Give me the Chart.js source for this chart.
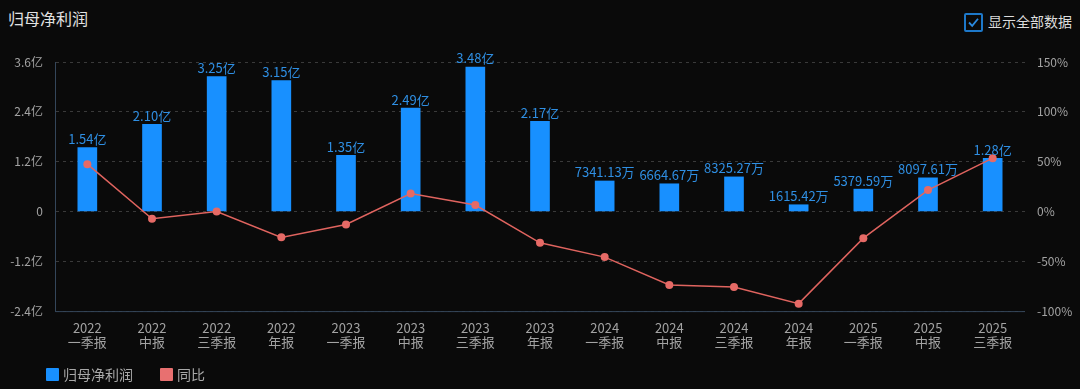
<!DOCTYPE html>
<html>
<head>
<meta charset="utf-8">
<script src="https://cdn.jsdelivr.net/npm/chart.js@4.4.1/dist/chart.umd.min.js"></script>
<style>
  html, body { margin: 0; padding: 0; background: #0a0a0a; }
  body { width: 1080px; height: 389px; position: relative; overflow: hidden;
         font-family: "Noto Sans CJK SC", "Noto Sans", sans-serif; }
  #title { position: absolute; left: 8px; top: 6px; font-size: 16px; color: #e2e2e2; }
  #toggle { position: absolute; left: 964px; top: 12px; font-size: 14px; color: #dcdcdc; }
  #toggle .box { position: absolute; left: 0; top: 1px; width: 15px; height: 15px;
                 border: 2px solid #1d78c9; border-radius: 2px; }
  #toggle .box svg { position: absolute; left: 1px; top: 1px; }
  #toggle .txt { position: absolute; left: 24px; top: -1px; white-space: nowrap; }
  #wrap { position: absolute; left: 0; top: 0; width: 1080px; height: 389px; }
  .lg { position: absolute; top: 364px; font-size: 14px; color: #a8a8a8; white-space: nowrap; }
  .lg i { position: absolute; left: 0; top: 4px; width: 13px; height: 13px; border-radius: 1px; }
  .lg span { position: absolute; left: 17px; top: 0; }
</style>
</head>
<body>
<div id="title">归母净利润</div>
<div id="toggle">
  <div class="box"><svg width="13" height="13" viewBox="0 0 13 13"><path d="M2 6.5 L5.2 9.8 L11 2.8" fill="none" stroke="#2a8ae0" stroke-width="1.8"/></svg></div>
  <div class="txt">显示全部数据</div>
</div>
<div id="wrap"><canvas id="chart" width="1080" height="389"></canvas></div>
<div id="legend"></div>
<script>
// 报告期
var periods = [
  ['2022', '一季报'], ['2022', '中报'], ['2022', '三季报'], ['2022', '年报'],
  ['2023', '一季报'], ['2023', '中报'], ['2023', '三季报'], ['2023', '年报'],
  ['2024', '一季报'], ['2024', '中报'], ['2024', '三季报'], ['2024', '年报'],
  ['2025', '一季报'], ['2025', '中报'], ['2025', '三季报']
];
// 归母净利润 (万元)
var netProfit = [15400, 21000, 32500, 31500, 13500, 24900, 34800, 21700,
                 7341.13, 6664.67, 8325.27, 1615.42, 5379.59, 8097.61, 12800];
// 同比 (%)
var yoy = [47.5, -7.4, 0, -26, -13, 18, 6.5, -31.5, -45.8, -73.8, -75.8, -92.5, -26.8, 21.5, 53.5];

var leftTicks = [-24000, -12000, 0, 12000, 24000, 36000];
var rightTicks = [-100, -50, 0, 50, 100, 150];

var seriesNames = ['归母净利润', '同比'];
var seriesColors = ['#1890ff', '#e0645f'];
var legendColors = ['#1890ff', '#e87070'];
var legendLeft = [46, 160];

var fmtWan = function(v) {
  if (v === 0) return '0';
  if (Math.abs(v) >= 10000) return +(v / 10000).toFixed(2) + '亿';
  return v.toFixed(2) + '万';
};
var fmtLabel = function(v) {
  if (Math.abs(v) >= 10000) return (v / 10000).toFixed(2) + '亿';
  return v.toFixed(2) + '万';
};

// legend
var legendHtml = '';
seriesNames.forEach(function(name, i) {
  legendHtml += '<div class="lg" style="left:' + legendLeft[i] + 'px"><i style="background:' +
    legendColors[i] + '"></i><span>' + name + '</span></div>';
});
document.getElementById('legend').innerHTML = legendHtml;

var barLabels = {
  id: 'barLabels',
  afterDatasetsDraw: function(chart) {
    var ctx = chart.ctx;
    var meta = chart.getDatasetMeta(0);
    ctx.save();
    ctx.font = '13px "Noto Sans CJK SC", sans-serif';
    ctx.fillStyle = '#2f8fe3';
    ctx.textAlign = 'center';
    ctx.textBaseline = 'bottom';
    meta.data.forEach(function(bar, i) {
      ctx.fillText(fmtLabel(netProfit[i]), bar.x, bar.y - 2);
    });
    ctx.restore();
  }
};

var axisColor = '#34465a';
var gridColor = '#3a3a3a';
var tickColor = '#a3a3a3';

new Chart(document.getElementById('chart').getContext('2d'), {
  type: 'bar',
  data: {
    labels: periods,
    datasets: [{
      label: seriesNames[0],
      data: netProfit,
      backgroundColor: seriesColors[0],
      borderWidth: 0,
      barThickness: 19,
      yAxisID: 'y',
      order: 2
    }, {
      type: 'line',
      label: seriesNames[1],
      data: yoy,
      borderColor: seriesColors[1],
      backgroundColor: seriesColors[1],
      borderWidth: 1.5,
      pointRadius: 4,
      pointBorderWidth: 0,
      pointBackgroundColor: '#e66a66',
      tension: 0,
      yAxisID: 'y1',
      order: 1
    }]
  },
  options: {
    responsive: false,
    animation: false,
    layout: { padding: { top: 62, left: 0, right: 0, bottom: 30 } },
    plugins: {
      tooltip: { enabled: false },
      legend: { display: false }
    },
    scales: {
      x: {
        grid: { display: false, drawTicks: false },
        border: { display: false },
        ticks: {
          color: tickColor,
          font: { size: 13, family: '"Noto Sans CJK SC", sans-serif', lineHeight: 1.15 },
          maxRotation: 0,
          autoSkip: false,
          padding: 9
        }
      },
      y: {
        position: 'left',
        min: -24000,
        max: 36000,
        afterBuildTicks: function(axis) {
          axis.ticks = leftTicks.map(function(v) { return { value: v }; });
        },
        afterFit: function(axis) { axis.width = 55; },
        grid: { color: gridColor, drawTicks: false, lineWidth: 1 },
        border: { display: true, color: axisColor, width: 1, dash: [3, 4] },
        ticks: {
          color: tickColor,
          font: { size: 12, family: '"Noto Sans CJK SC", sans-serif' },
          padding: 12,
          callback: function(v) { return fmtWan(v); }
        }
      },
      y1: {
        position: 'right',
        min: -100,
        max: 150,
        afterBuildTicks: function(axis) {
          axis.ticks = rightTicks.map(function(v) { return { value: v }; });
        },
        afterFit: function(axis) { axis.width = 55; },
        grid: { display: false, drawTicks: false },
        border: { display: false },
        ticks: {
          color: tickColor,
          font: { size: 12, family: '"Noto Sans CJK SC", sans-serif' },
          padding: 12,
          callback: function(v) { return v + '%'; }
        }
      }
    }
  },
  plugins: [barLabels, {
    id: 'axisLines',
    beforeDatasetsDraw: function(chart) {
      var ctx = chart.ctx, a = chart.chartArea;
      ctx.save();
      ctx.strokeStyle = axisColor;
      ctx.lineWidth = 1;
      ctx.setLineDash([]);
      ctx.beginPath();
      ctx.moveTo(a.left + 0.5, a.top);
      ctx.lineTo(a.left + 0.5, a.bottom + 0.5);
      ctx.lineTo(a.right, a.bottom + 0.5);
      ctx.stroke();
      ctx.restore();
    }
  }]
});
</script>
</body>
</html>
